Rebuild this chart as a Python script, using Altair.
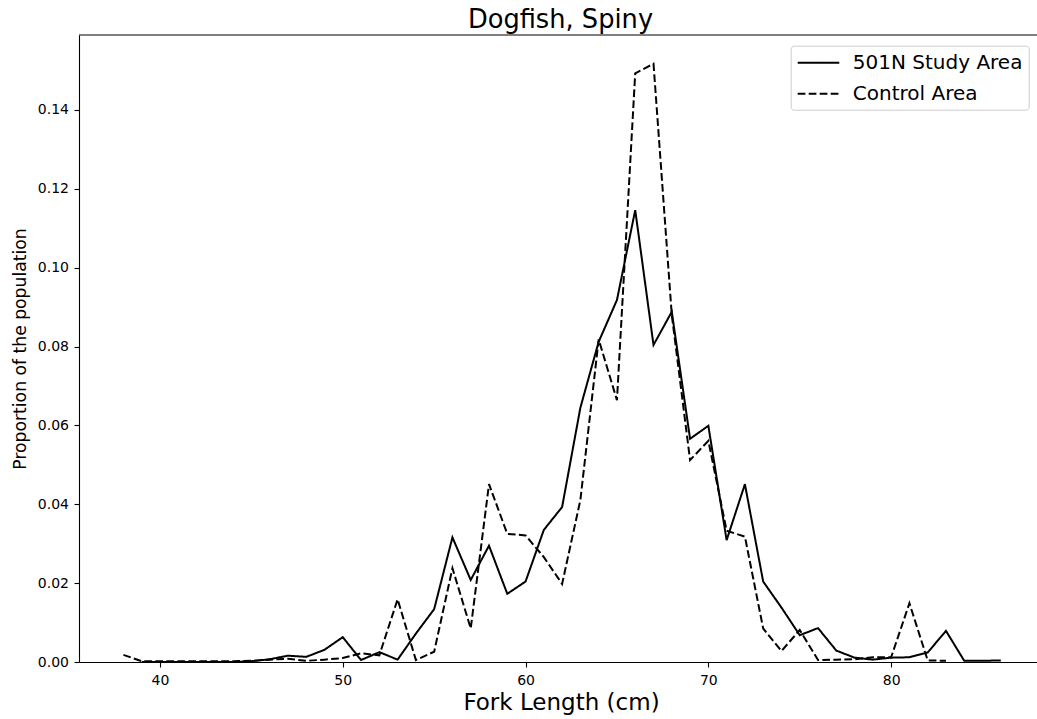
import altair as alt
import pandas as pd

# ---- data ----
study_lengths = list(range(39, 87))
study_values = [
    0.0000, 0.0000, 0.0000, 0.0000, 0.0000, 0.0000, 0.0002, 0.0007,  # 39-46
    0.0016, 0.0013, 0.0031, 0.0063, 0.0005, 0.0025, 0.0006, 0.0072,  # 47-54
    0.0134, 0.0316, 0.0208, 0.0295, 0.0173, 0.0204, 0.0335, 0.0393,  # 55-62
    0.0645, 0.0812, 0.0918, 0.1146, 0.0804, 0.0888, 0.0566, 0.0599,  # 63-70
    0.0309, 0.0451, 0.0204, 0.0138, 0.0068, 0.0086, 0.0029, 0.0011,  # 71-78
    0.0006, 0.0011, 0.0012, 0.0024, 0.0079, 0.0003, 0.0003, 0.0004,  # 79-86
]
control_lengths = list(range(38, 84))
control_values = [
    0.0018, 0.0002, 0.0002, 0.0002, 0.0002, 0.0002, 0.0002, 0.0003,  # 38-45
    0.0006, 0.0008, 0.0003, 0.0006, 0.0010, 0.0022, 0.0017, 0.0159,  # 46-53
    0.0005, 0.0026, 0.0238, 0.0085, 0.0451, 0.0325, 0.0321, 0.0266,  # 54-61
    0.0198, 0.0411, 0.0818, 0.0664, 0.1493, 0.1517, 0.0880, 0.0512,  # 62-69
    0.0561, 0.0333, 0.0318, 0.0085, 0.0028, 0.0081, 0.0005, 0.0006,  # 70-77
    0.0007, 0.0012, 0.0012, 0.0149, 0.0004, 0.0003,                  # 78-83
]
series_names = ["501N Study Area", "Control Area"]
x_ticks = [40, 50, 60, 70, 80]
y_ticks = [0.00, 0.02, 0.04, 0.06, 0.08, 0.10, 0.12, 0.14]

df = pd.concat([
    pd.DataFrame({"length": study_lengths, "proportion": study_values, "series": series_names[0]}),
    pd.DataFrame({"length": control_lengths, "proportion": control_values, "series": series_names[1]}),
], ignore_index=True)

W, H = 958, 627
FONT = "DejaVu Sans"

lines = alt.Chart(df).mark_line(color="black", strokeWidth=2, clip=True).encode(
    x=alt.X(
        "length:Q",
        scale=alt.Scale(domain=[35.57, 87.98], nice=False, zero=False),
        axis=alt.Axis(
            values=x_ticks, format="d", title="Fork Length (cm)",
            titleFontSize=23, titleX=482, titleY=47.5, titleBaseline="alphabetic",
            labelPadding=6, grid=False,
        ),
    ),
    y=alt.Y(
        "proportion:Q",
        scale=alt.Scale(domain=[0, 0.159], nice=False, zero=True),
        axis=alt.Axis(
            values=y_ticks, format=".2f", title="Proportion of the population",
            titleFontSize=17.2, titleX=-59, titleY=313.5, titleBaseline="middle",
            titleAngle=-90, labelPadding=5.5, grid=False,
        ),
    ),
    strokeDash=alt.StrokeDash(
        "series:N",
        scale=alt.Scale(domain=series_names, range=[[1, 0], [7.7, 3.3]]),
        legend=alt.Legend(
            title=None, orient="none", legendX=711.7, legendY=10.7,
            symbolType="M-2.08,0H2.08", symbolSize=400, symbolStrokeWidth=2,
            symbolOffset=10.8,
            symbolStrokeColor="black", symbolFillColor="transparent",
            labelFont=FONT, labelFontSize=20, labelLimit=400,
            labelColor="black", labelOffset=23.3, padding=6, rowPadding=10,
            strokeColor="#cccccc", fillColor="rgba(255,255,255,0.8)",
            cornerRadius=3,
        ),
    ),
)

top_spine = alt.Chart(pd.DataFrame({"s": [0]})).mark_rule(
    color="black", strokeWidth=1.1
).encode(x=alt.value(0), x2=alt.value(W), y=alt.value(0))

chart = alt.layer(lines, top_spine).properties(
    width=W, height=H,
    background="white",
    autosize=alt.AutoSizeParams(type="none"),
    padding={"left": 79, "top": 35, "right": 0, "bottom": 57},
    title=alt.TitleParams(
        "Dogfish, Spiny", font=FONT, fontSize=25.7, fontWeight="normal",
        color="black", anchor="middle", frame="group", baseline="alphabetic",
        offset=7.5, dx=2.5, dy=26.5,
    ),
).configure_view(stroke=None).configure_axis(
    labelFont=FONT, labelFontSize=14, labelColor="black",
    titleFont=FONT, titleFontWeight="normal", titleColor="black",
    domainColor="black", domainWidth=1.1, tickColor="black",
    tickWidth=1.1, tickSize=5,
)

chart.save("out.html", embed_options={"renderer": "svg", "actions": False})
